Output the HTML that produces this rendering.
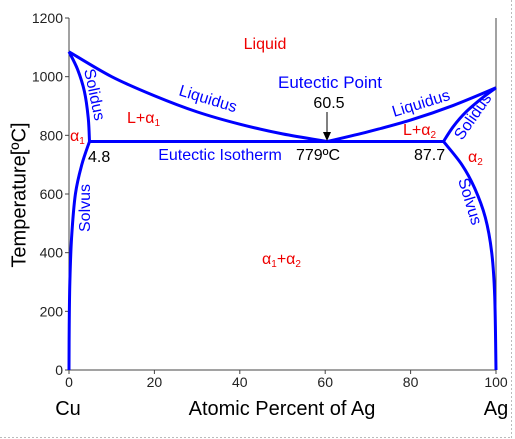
<!DOCTYPE html>
<html><head><meta charset="utf-8"><style>
html,body{margin:0;padding:0;background:#fff}
svg{display:block;font-family:"Liberation Sans",sans-serif}
</style></head><body>
<svg id="c" width="515" height="439">
<line x1="0" y1="437.5" x2="511" y2="437.5" stroke="#bbb" stroke-dasharray="2,2"/>
<line x1="511.5" y1="0" x2="511.5" y2="438" stroke="#bbb" stroke-dasharray="2,2"/>
<g id="axes"></g>
<g id="curves"></g>
<g id="labels" font-size="16">
<text x="20" y="195" font-size="20" transform="rotate(-90 20 195)" text-anchor="middle" dominant-baseline="middle">Temperature[ºC]</text>
<text x="282" y="415" font-size="20" text-anchor="middle">Atomic Percent of Ag</text>
<text x="68" y="415" font-size="20" text-anchor="middle">Cu</text>
<text x="496" y="415" font-size="20" text-anchor="middle">Ag</text>
<text x="265" y="49" fill="#e00" font-size="16" text-anchor="middle">Liquid</text>
<text x="330" y="88" fill="#00f" font-size="17" text-anchor="middle">Eutectic Point</text>
<text x="329" y="108" font-size="16" text-anchor="middle">60.5</text>
<text x="220" y="160" fill="#00f" font-size="16" text-anchor="middle">Eutectic Isotherm</text>
<text x="318" y="160" font-size="16" text-anchor="middle">779ºC</text>
<text x="88" y="162" font-size="16">4.8</text>
<text x="414" y="160" font-size="16">87.7</text>
<text x="127" y="123" fill="#e00">L+α<tspan font-size="10" dy="3">1</tspan></text>
<text x="403" y="135" fill="#e00">L+α<tspan font-size="10" dy="3">2</tspan></text>
<text x="70" y="141" fill="#e00">α<tspan font-size="10" dy="3">1</tspan></text>
<text x="468" y="162" fill="#e00">α<tspan font-size="10" dy="3">2</tspan></text>
<text x="262" y="264" fill="#e00">α<tspan font-size="10" dy="3">1</tspan><tspan dy="-3">+α</tspan><tspan font-size="10" dy="3">2</tspan></text>
<text x="0" y="0" fill="#00f" transform="translate(178,95) rotate(17)">Liquidus</text>
<text x="0" y="0" fill="#00f" transform="translate(394,117) rotate(-17)">Liquidus</text>
<text x="0" y="0" fill="#00f" transform="translate(84,70) rotate(78)">Solidus</text>
<text x="0" y="0" fill="#00f" transform="translate(462,141) rotate(-55)">Solidus</text>
<text x="0" y="0" fill="#00f" transform="translate(90,232) rotate(-90)">Solvus</text>
<text x="0" y="0" fill="#00f" transform="translate(458,180) rotate(73)">Solvus</text>
</g>
<g>
<line x1="327" y1="112" x2="327" y2="133" stroke="#000" stroke-width="1"/>
<polygon points="323,132 331,132 327,141" fill="#000"/>
</g>
</svg>
<script>
const xTicks=[0,20,40,60,80,100];
const yTicks=[0,200,400,600,800,1000,1200];
const liquidusLeft=[[0,1085],[10,1000],[20,935],[30,880],[40,838],[50,805],[60.5,779]];
const liquidusRight=[[60.5,779],[70,812],[80,852],[90,902],[100,962]];
const solidusLeft=[[0,1085],[2,1025],[3.6,950],[4.5,860],[4.8,779]];
const solvusLeft=[[4.8,779],[3,700],[1.5,600],[0.6,450],[0.2,300],[0.05,150],[0,0]];
const solidusRight=[[87.7,779],[90,830],[93,880],[97,930],[100,962]];
const solvusRight=[[87.7,779],[92,700],[95,620],[97.5,520],[99,400],[99.7,250],[100,0]];
const eutecticLine=[[4.8,779],[87.7,779]];
const X0=69,X1=496,Y0=370,Y1=18;
const sx=v=>X0+(X1-X0)*v/100;
const sy=v=>Y0+(Y1-Y0)*v/1200;
const NS='http://www.w3.org/2000/svg';
const ax=document.getElementById('axes');
function mk(t,a,p){const e=document.createElementNS(NS,t);for(const k in a)e.setAttribute(k,a[k]);p.appendChild(e);return e;}
let e=mk('line',{x1:X0,y1:Y1,x2:X0,y2:Y0,stroke:'#444','stroke-width':1},ax);


e=mk('line',{x1:X0,y1:Y0,x2:X1,y2:Y0,stroke:'#444','stroke-width':1},ax);


e=mk('line',{x1:X1,y1:Y1,x2:X1,y2:Y0,stroke:'#444','stroke-width':1},ax);


xTicks.forEach(v=>{
 mk('line',{x1:sx(v),y1:Y0,x2:sx(v),y2:Y0+4,stroke:'#444'},ax);
 const t=mk('text',{x:sx(v),y:Y0+17,'font-size':14,'text-anchor':'middle',fill:'#222'},ax);t.textContent=v;
 
 
});
yTicks.forEach(v=>{
 mk('line',{x1:X0-4,y1:sy(v),x2:X0,y2:sy(v),stroke:'#444'},ax);
 const t=mk('text',{x:X0-6,y:sy(v)+5,'font-size':14,'text-anchor':'end',fill:'#222'},ax);t.textContent=v;
 
 
});
function path(pts){
 const p=pts.map(q=>[sx(q[0]),sy(q[1])]);
 let d='M'+p[0][0]+','+p[0][1];
 for(let i=0;i<p.length-1;i++){
  const a=p[Math.max(i-1,0)],b=p[i],c=p[i+1],n=p[Math.min(i+2,p.length-1)];
  const c1=[b[0]+(c[0]-a[0])/6,b[1]+(c[1]-a[1])/6],c2=[c[0]-(n[0]-b[0])/6,c[1]-(n[1]-b[1])/6];
  d+=' C'+c1+' '+c2+' '+c;
 }
 return d;
}
const cg=document.getElementById('curves');
[['liquidus-left',liquidusLeft],['liquidus-right',liquidusRight],['solidus-left',solidusLeft],['solvus-left',solvusLeft],['solidus-right',solidusRight],['solvus-right',solvusRight],['eutectic-isotherm',eutecticLine]].forEach(([n,pts])=>{
 const el=mk('path',{d:path(pts),fill:'none',stroke:'#00f','stroke-width':3,'stroke-linejoin':'round'},cg);
 
 
});
</script>
</body></html>
